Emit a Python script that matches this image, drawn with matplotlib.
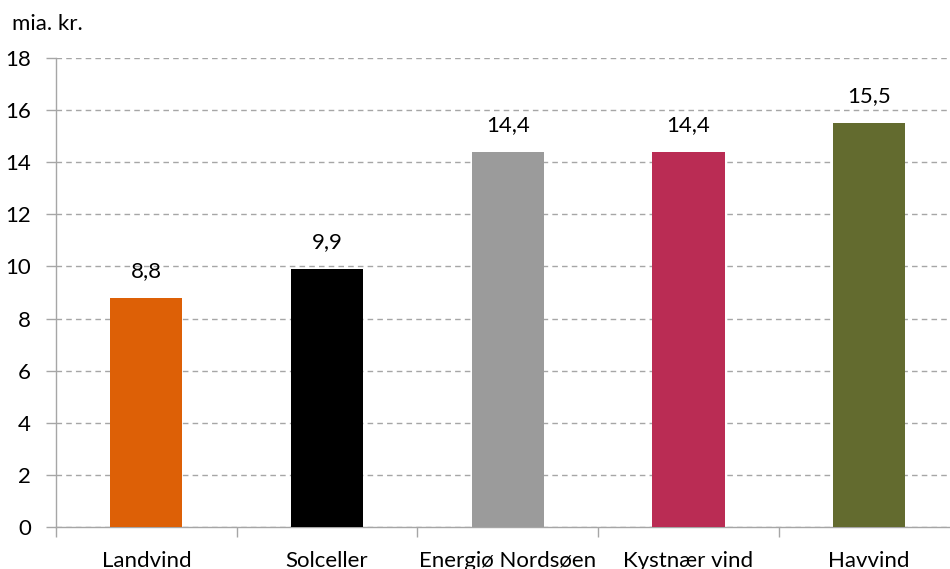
import matplotlib
matplotlib.use("Agg")
import matplotlib.pyplot as plt
import numpy as np

categories = ["Landvind", "Solceller", "Energiø Nordsøen", "Kystnær vind", "Havvind"]
values = [8.8, 9.9, 14.4, 14.4, 15.5]
colors = ["#DD6006", "#000000", "#9B9B9B", "#BA2C54", "#636B2F"]
yticks = [0, 2, 4, 6, 8, 10, 12, 14, 16, 18]

plt.rcParams['font.family'] = ['Lato', 'DejaVu Sans']
FS = 16

fig = plt.figure(figsize=(9.5, 5.69), dpi=100)
ax = fig.add_axes([56/950, 1-527/569, (959.5-56)/950, (527-58)/569])

x = np.arange(len(categories))
ax.bar(x, values, width=0.40, color=colors, zorder=3)
for xi, v in zip(x, values):
    ax.annotate(f"{v:.1f}".replace(".", ","), (xi, v), xytext=(0, 12),
                textcoords="offset points", ha="center", va="bottom",
                fontsize=FS, color="#000000")

ax.set_xlim(-0.5, len(categories) - 0.5)
ax.set_ylim(0, 18)
ax.set_yticks(yticks)
ax.set_yticklabels([str(t) for t in yticks], fontsize=FS)
ax.yaxis.grid(True, linestyle=(0, (4, 3)), color="#A6A6A6", linewidth=1.0, zorder=0)

ax.set_xticks(x)
ax.set_xticklabels(categories, fontsize=FS)
ax.set_xticks(np.arange(-0.5, len(categories) + 0.5, 1), minor=True)
ax.tick_params(axis="x", which="major", length=0, pad=17)
ax.tick_params(axis="x", which="minor", length=7, color="#A6A6A6", width=1)
ax.tick_params(axis="y", length=7, color="#A6A6A6", width=1, pad=11)

for s in ["top", "right"]:
    ax.spines[s].set_visible(False)
for s in ["left", "bottom"]:
    ax.spines[s].set_color("#A6A6A6")
    ax.spines[s].set_linewidth(1)

fig.text(12/950, 1-30/569, "mia. kr.", fontsize=FS, ha="left", va="baseline")

fig.savefig("out.png", dpi=100)
